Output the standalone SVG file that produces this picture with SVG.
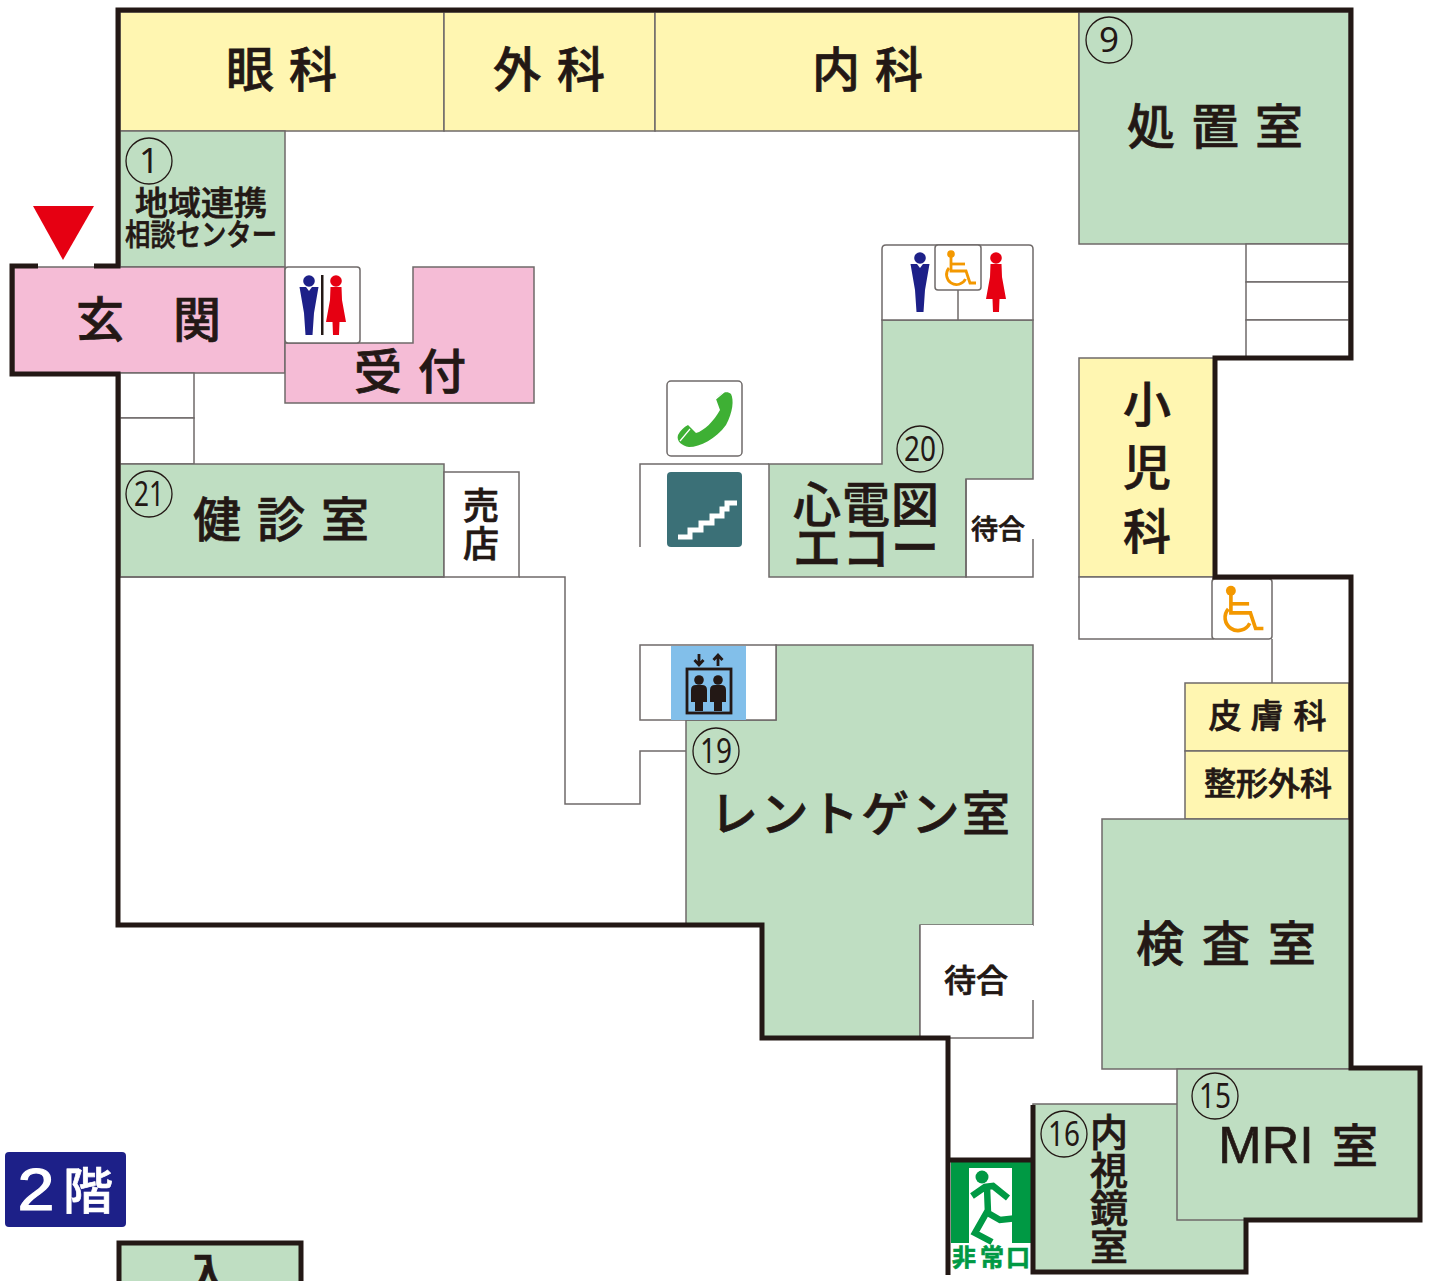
<svg xmlns="http://www.w3.org/2000/svg" xmlns:xlink="http://www.w3.org/1999/xlink" width="1432" height="1281" viewBox="0 0 1432 1281">
<style>
text{font-family:"Noto Sans CJK JP","Noto Sans",sans-serif;fill:#231815;stroke:#231815;stroke-width:.7;font-weight:500;text-anchor:middle}
.l{font-size:48px}
.s{stroke:#6f6a69;stroke-width:1.5}
.g{fill:#bfdec2}.y{fill:#fff6b1}.p{fill:#f5bcd6}.w{fill:#fff}.n{fill:none}
.wall{fill:none;stroke:#231815;stroke-width:5;stroke-linejoin:miter}
text.num{font-family:"Noto Sans",sans-serif;font-weight:400;font-size:35px;stroke-width:0}
.ring{fill:none;stroke:#231815;stroke-width:1.3}
.chair{fill:none;stroke:#f39800;stroke-width:2.8}
</style>
<defs>
<g id="man"><circle cx="0" cy="0" r="5.800" fill="#1d2088"/><path d="M-9.500 6H-3L0 10 3 6H9.500L5 32 3.500 54H-3.500L-5 32Z" fill="#1d2088"/></g>
<g id="woman"><circle cx="0" cy="0" r="5.800" fill="#e60012"/><path d="M-5.500 6H5.500L6 19 10 41H3.500L3 54H-3L-3.500 41H-10L-6 19Z" fill="#e60012"/></g>
<g id="chair"><circle cx="-7" cy="-14" r="3.800" fill="#f39800"/><path class="chair" d="M-7-12V3H8L12 15H18"/><path class="chair" d="M-7-4H7"/><path class="chair" d="M-9 0A10 10 0 1 0 7.500 11"/></g>
</defs>
<rect width="1432" height="1281" fill="#fff"/>

<g id="room-eye"><rect class="y s" x="120" y="12" width="324" height="119"/><text class="l" x="250 313" y="87">眼科</text></g>
<g id="room-surgery"><rect class="y s" x="444" y="12" width="211" height="119"/><text class="l" x="517 581" y="87">外科</text></g>
<g id="room-internal"><rect class="y s" x="655" y="12" width="424" height="119"/><text class="l" x="836 899" y="87">内科</text></g>
<g id="room-treatment"><rect class="g s" x="1079" y="12" width="270" height="232"/><text class="l" x="1151 1215 1279" y="144">処置室</text><circle class="ring" cx="1109" cy="40" r="23"/><text class="num" x="1109" y="52">9</text></g>
<g id="stairs-east"><rect class="w s" x="1246" y="244" width="103" height="38"/><rect class="w s" x="1246" y="282" width="103" height="38"/><rect class="w s" x="1246" y="320" width="103" height="38"/></g>

<g id="room-1"><rect class="g s" x="120" y="131" width="165" height="136"/><circle class="ring" cx="149" cy="161" r="23"/><text class="num" x="149" y="173">1</text><text x="201" y="215" font-size="33">地域連携</text><text x="201" y="245" font-size="30" textLength="152" lengthAdjust="spacingAndGlyphs">相談センター</text></g>
<g id="entrance"><rect class="p s" x="14" y="267" width="271" height="106"/><text class="l" x="100 197" y="337">玄関</text><path d="M33 206H94L63 260Z" fill="#e60012"/></g>
<g id="reception"><path class="p s" d="M285 343H413V267H534V403H285Z"/><text class="l" x="378 442" y="389">受付</text></g>
<g id="toilet-west"><rect class="w s" x="285" y="267" width="75" height="76" rx="3"/><use xlink:href="#man" href="#man" x="309" y="281"/><use xlink:href="#woman" href="#woman" x="336" y="281"/><rect x="321" y="275" width="2.500" height="60" fill="#231815"/></g>
<g id="stairs-west"><rect class="w s" x="120" y="373" width="74" height="45"/><rect class="w s" x="120" y="418" width="74" height="46"/></g>
<g id="room-21"><rect class="g s" x="120" y="464" width="324" height="113"/><circle class="ring" cx="149" cy="494" r="23"/><text class="num" x="149" y="506" textLength="30" lengthAdjust="spacingAndGlyphs">21</text><text class="l" x="217 281 345" y="537">健診室</text></g>
<g id="shop"><rect class="w s" x="444" y="472" width="75" height="105"/><text x="481" y="519" font-size="36">売</text><text x="481" y="557" font-size="36">店</text></g>
<g id="corridor-lines"><path class="n s" d="M120 577H444M519 577H565V804H640V751H686"/><path class="n s" d="M640 547V464H769"/><path class="n s" d="M1272 639V683"/></g>

<g id="phone"><rect class="w s" x="667" y="381" width="75" height="75" rx="4"/><path d="M716 399C720 393 727 390 731 394 734 400 733 412 726 425 716 439 700 447 689 447 682 446 676 441 678 435 680 431 684 427 688 425L696 433C704 431 714 421 720 410Z" fill="#3eb034"/><path d="M712 402L724 392M680 441L690 429" stroke="#fff" stroke-width="1.200" fill="none"/></g>
<g id="stairs-icon"><rect x="667" y="472" width="75" height="75" rx="4" fill="#3b7077"/><path d="M678 537H690V530H701V523H712V516H722V509H727V503H737" fill="none" stroke="#fff" stroke-width="5"/></g>

<g id="room-20"><path class="g s" d="M769 464H882V320H1033V479H966V577H769Z"/><circle class="ring" cx="920" cy="449" r="23"/><text class="num" x="920" y="461" textLength="32" lengthAdjust="spacingAndGlyphs">20</text><text class="l" x="817 866 915" y="522">心電図</text><text class="l" x="817 866 915" y="565">エコー</text></g>
<g id="toilet-center"><path class="w s" d="M882 320V249Q882 245 886 245H1029Q1033 245 1033 249V320Z"/><path class="s" d="M958 290V320"/><use xlink:href="#man" href="#man" x="920" y="258"/><use xlink:href="#woman" href="#woman" x="996" y="258"/><rect class="w s" x="935" y="245" width="46" height="45" rx="3"/><g transform="translate(958 268)"><use xlink:href="#chair" href="#chair"/></g></g>
<g id="waiting-1"><path class="n s" d="M966 479V577H1033V539"/><text x="998" y="539" font-size="27">待合</text></g>

<g id="room-19"><path class="g s" d="M776 645H1033V925H920V1038H762V925H686V720H776Z"/><circle class="ring" cx="716" cy="751" r="23"/><text class="num" x="716" y="763" textLength="32" lengthAdjust="spacingAndGlyphs">19</text><text class="l" x="860" y="831" textLength="300">レントゲン室</text></g>
<g id="elevator"><rect class="w s" x="640" y="645" width="136" height="75"/><rect x="671" y="646" width="75" height="74" fill="#82bfea"/><rect x="687" y="669" width="44" height="44" fill="none" stroke="#231815" stroke-width="2.800"/><g fill="#231815"><circle cx="699" cy="680" r="4.800"/><circle cx="718" cy="680" r="4.800"/><path d="M691 702V690Q691 685 696 685H702Q707 685 707 690V702H703V711H695V702Z"/><path d="M710 702V690Q710 685 715 685H721Q726 685 726 690V702H722V711H714V702Z"/></g><path d="M699 654V665M694.500 660L699 665 703.500 660M718 666V655M713.500 660L718 655 722.500 660" fill="none" stroke="#231815" stroke-width="2.800"/></g>
<g id="waiting-2"><path class="w" d="M920 925H1033V1038H920Z"/><path class="n s" d="M1033 1000V1038H920V925"/><text x="976" y="992" font-size="32">待合</text></g>

<g id="room-pediatrics"><rect class="y s" x="1079" y="358" width="136" height="219"/><text class="l" x="1147" y="422">小</text><text class="l" x="1147" y="485">児</text><text class="l" x="1147" y="549">科</text></g>
<g id="corridor-box"><rect class="w s" x="1079" y="577" width="134" height="62"/><rect class="w s" x="1212" y="579" width="60" height="60" rx="3"/><g transform="translate(1240 609) scale(1.300)"><use xlink:href="#chair" href="#chair"/></g></g>
<g id="room-derm"><rect class="y s" x="1185" y="683" width="164" height="68"/><text font-size="33" x="1225 1267 1310" y="728">皮膚科</text></g>
<g id="room-ortho"><rect class="y s" x="1185" y="751" width="164" height="68"/><text x="1268" y="795" font-size="32">整形外科</text></g>
<g id="room-lab"><rect class="g s" x="1102" y="819" width="249" height="250"/><text class="l" x="1160 1226 1292" y="961">検査室</text></g>
<g id="room-16"><rect class="g s" x="1033" y="1104" width="213" height="168"/><circle class="ring" cx="1064" cy="1134" r="23"/><text class="num" x="1064" y="1146" textLength="32" lengthAdjust="spacingAndGlyphs">16</text><g font-size="38"><text x="1109" y="1146">内</text><text x="1109" y="1184">視</text><text x="1109" y="1222">鏡</text><text x="1109" y="1260">室</text></g></g>
<g id="room-15"><rect class="g s" x="1177" y="1069" width="243" height="151"/><circle class="ring" cx="1215" cy="1096" r="23"/><text class="num" x="1215" y="1108" textLength="32" lengthAdjust="spacingAndGlyphs">15</text><text x="1266" y="1163" font-size="52" style="font-family:'Liberation Sans',sans-serif;font-weight:400">MRI</text><text x="1355" y="1162" font-size="46">室</text></g>

<g id="exit"><rect x="951" y="1162" width="80" height="81" fill="#009944"/><rect x="969" y="1168" width="43" height="75" fill="#fff"/>
<circle cx="982" cy="1177" r="6.500" fill="#009944"/>
<path d="M972 1196L985 1187 993 1186 1008 1198M987 1187L988 1213 1000 1220 1018 1218M988 1210L975 1233 992 1242" fill="none" stroke="#009944" stroke-width="6.500"/>
<path d="M1012 1226H1020V1243H1012Z" fill="#009944"/>
<text x="964 992 1018" y="1266" font-size="24" style="fill:#009944;stroke:#009944;font-weight:700">非常口</text></g>

<g id="floor-badge"><rect x="5" y="1152" width="121" height="75" rx="4" fill="#1d2088"/><text x="36" y="1210" font-size="60" style="fill:#fff;stroke:#fff;stroke-width:1.200;font-family:'Liberation Sans',sans-serif;font-weight:400" textLength="37" lengthAdjust="spacingAndGlyphs">2</text><text x="88" y="1209" font-size="50" style="fill:#fff;stroke:#fff">階</text></g>
<g id="room-entry"><rect x="119" y="1243" width="182" height="50" fill="#bfdec2" stroke="#231815" stroke-width="5"/><text x="208" y="1293" class="l">入</text></g>

<g id="walls">
<path class="wall" d="M38 266H12V374H118V925H762V1038H948V1275"/>
<path class="wall" d="M94 266H118V10H1351V358H1215V577H1351V1068H1420V1220H1246V1272H1033V1105"/>
<path class="wall" d="M948 1160H1033"/>
</g>
</svg>
